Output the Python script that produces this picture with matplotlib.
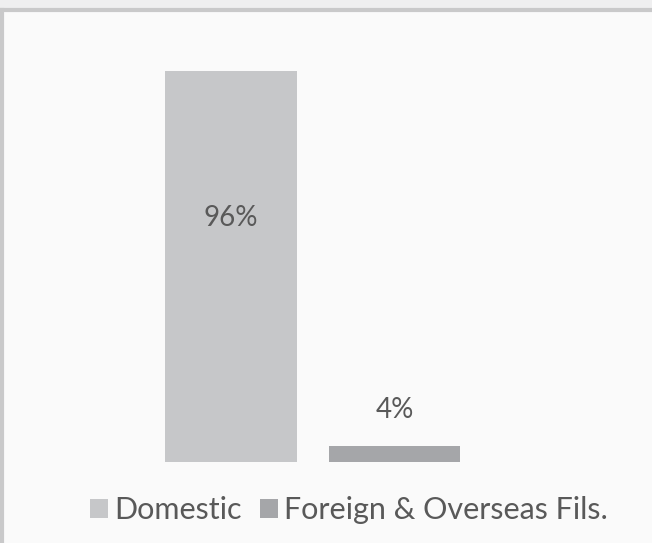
import matplotlib.pyplot as plt
from matplotlib.patches import Rectangle, Patch
from matplotlib.lines import Line2D

# data
series = ["Domestic", "Foreign & Overseas Fils."]
values = [96, 4]
labels = ["96%", "4%"]
label_y = [60, 12.8]
colors = ["#C6C7C9", "#A5A6A9"]
text_color = "#595959"

plt.rcParams['font.family'] = ['Lato', 'DejaVu Sans']

W, H = 652, 543
fig = plt.figure(figsize=(W / 100, H / 100), dpi=100)
fig.patch.set_facecolor("#EFEFF0")

# chart area: light fill with a grey frame on top and left
top = (H - 10) / H
fig.patches.append(Rectangle((0, 0), 1, top, transform=fig.transFigure,
                             facecolor="#FAFAFA", edgecolor="none", zorder=-2))
frame = dict(transform=fig.transFigure, color="#C9C9CA", linewidth=3, zorder=-1)
fig.add_artist(Line2D([0, 1], [top, top], **frame))
fig.add_artist(Line2D([1.5 / W, 1.5 / W], [0, top], **frame))

# axes placed in pixels: bars centres at 231 and 394.5, baseline at y=462
px_per_unit = 163.5
left_px, right_px = 10, 640
ax = fig.add_axes([left_px / W, (H - 462) / H, (right_px - left_px) / W, 400 / H])
ax.set_xlim((left_px - 231) / px_per_unit, (right_px - 231) / px_per_unit)
ax.set_ylim(0, 400 / 4.07)
ax.set_facecolor("none")
ax.axis("off")

xs = range(len(values))
for x, v, c, name in zip(xs, values, colors, series):
    ax.bar(x, v, width=0.807, color=c, label=name)

for x, lab, y in zip(xs, labels, label_y):
    ax.text(x, y, lab, ha="center", va="center", fontsize=20, color=text_color)

handles = [Patch(facecolor=c, edgecolor="none") for c in colors]
fig.legend(handles, series, loc="center", bbox_to_anchor=(349 / W, (H - 510) / H),
           ncol=2, frameon=False, fontsize=22, labelcolor=text_color,
           handlelength=0.6, handleheight=0.6, handletextpad=0.2,
           columnspacing=0.6)

fig.savefig("out.png", dpi=100, facecolor=fig.get_facecolor())
